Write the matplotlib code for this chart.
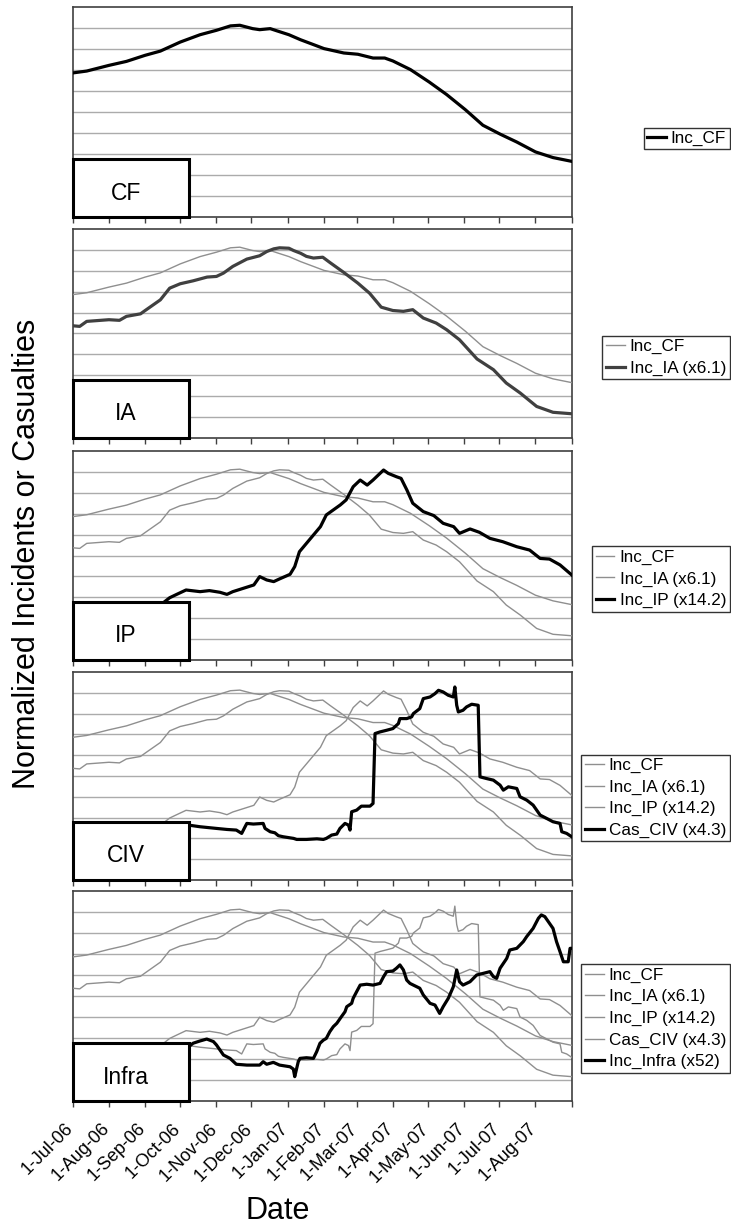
import numpy as np
import matplotlib
matplotlib.use("Agg")
import matplotlib.pyplot as plt
import matplotlib.dates as mdates
from matplotlib.patches import Rectangle
from matplotlib.lines import Line2D
from matplotlib.transforms import ScaledTranslation, blended_transform_factory
import datetime as dt

plt.rcParams['font.family'] = ['Liberation Sans', 'DejaVu Sans']

# ---------------- data (day offsets from 1-Jul-2006, normalized values) -------------
cf_days = [0, 12, 31, 46, 62, 75, 92, 109, 123, 135, 143, 154, 160, 169, 175, 185, 195, 206,
           215, 232, 244, 257, 267, 274, 289, 305, 320, 336, 351, 366, 380, 396, 411, 427]
cf_vals = [6.86, 6.95, 7.22, 7.41, 7.70, 7.90, 8.33, 8.68, 8.89, 9.10, 9.13, 8.97, 8.92, 8.97,
           8.86, 8.68, 8.44, 8.21, 8.02, 7.81, 7.75, 7.57, 7.57, 7.43, 7.02, 6.43, 5.83, 5.11,
           4.37, 3.94, 3.57, 3.10, 2.83, 2.65]

ia_days = [0, 6, 12, 31, 40, 46, 58, 62, 75, 83, 92, 103, 115, 123, 129, 137, 149, 160, 166,
           172, 177, 185, 189, 195, 200, 206, 214, 220, 232, 244, 254, 264, 274, 283, 291, 300,
           311, 320, 331, 346, 360, 371, 383, 397, 411, 427]
ia_vals = [5.37, 5.34, 5.58, 5.66, 5.63, 5.82, 5.94, 6.10, 6.61, 7.17, 7.38, 7.52, 7.70, 7.73,
           7.89, 8.21, 8.56, 8.72, 8.92, 9.05, 9.10, 9.08, 8.97, 8.84, 8.69, 8.61, 8.65, 8.40,
           7.92, 7.41, 6.93, 6.26, 6.10, 6.06, 6.14, 5.74, 5.50, 5.18, 4.70, 3.78, 3.27, 2.63,
           2.15, 1.51, 1.23, 1.16]

ip_days = [0, 40, 70, 78, 83, 89, 97, 109, 117, 126, 132, 137, 146, 155, 160, 166, 172, 177,
           186, 190, 194, 200, 206, 212, 217, 223, 229, 234, 240, 246, 252, 257, 263, 266, 270,
           277, 281, 286, 291, 300, 309, 317, 326, 331, 340, 348, 357, 368, 380, 391, 400, 408,
           417, 427]
ip_vals = [2.30, 2.40, 2.60, 2.76, 2.98, 3.14, 3.35, 3.27, 3.32, 3.24, 3.14, 3.27, 3.43, 3.59,
           3.99, 3.83, 3.75, 3.88, 4.10, 4.47, 5.18, 5.58, 5.98, 6.38, 6.94, 7.18, 7.42, 7.66,
           8.29, 8.61, 8.37, 8.61, 8.93, 9.09, 8.93, 8.77, 8.69, 8.13, 7.50, 7.10, 6.91, 6.54,
           6.38, 6.06, 6.27, 6.11, 5.82, 5.66, 5.42, 5.26, 4.86, 4.83, 4.55, 4.07]

civ_days = [0, 50, 99, 109, 123, 132, 140, 144.6, 147.5, 149, 154.6, 163, 164.6, 169, 173, 176,
            180, 189, 191.7, 200, 209, 214.5, 217, 221.6, 226, 228.7, 233, 236, 237.3, 238.7,
            243, 247, 254.4, 257, 258.7, 263, 268.7, 274, 278.7, 280, 285.8, 290, 291.5, 297,
            300, 305.8, 310, 313, 317, 321.4, 325.7, 327, 328.6, 330, 334, 337, 341.4, 347,
            348.5, 354, 360, 365.7, 368.5, 372.8, 380, 382.8, 388.5, 394, 400, 405.6, 411, 417,
            418.5, 422.7, 427]
civ_vals = [2.70, 2.70, 2.64, 2.56, 2.48, 2.43, 2.40, 2.24, 2.56, 2.72, 2.69, 2.72, 2.48, 2.32,
            2.27, 2.13, 2.08, 2.00, 1.95, 1.95, 1.98, 1.95, 2.00, 2.16, 2.21, 2.48, 2.72, 2.64,
            2.40, 3.28, 3.36, 3.55, 3.55, 3.68, 7.04, 7.12, 7.20, 7.28, 7.52, 7.76, 7.76, 7.84,
            8.00, 8.24, 8.72, 8.80, 8.96, 9.12, 9.04, 8.88, 8.80, 9.28, 8.40, 8.08, 8.16, 8.32,
            8.45, 8.40, 4.96, 4.88, 4.80, 4.56, 4.32, 4.48, 4.40, 4.00, 3.84, 3.60, 3.12, 2.96,
            2.80, 2.72, 2.32, 2.24, 2.08]

infra_days = [0, 50, 97.5, 103, 109, 114.7, 120.4, 123, 126, 129, 134.6, 140, 149, 160, 163,
              166, 171.7, 177, 186, 188.8, 190, 193, 194.5, 200, 206, 208.8, 211.6, 214.5, 217,
              220, 223, 226, 230, 233, 234.5, 238.7, 240, 243, 246, 251.6, 257, 263, 266, 268.7,
              274, 277, 280, 283, 285.8, 288.6, 291.5, 297, 300, 305.8, 310, 314, 317, 321.4,
              325.7, 328.6, 331, 334, 340, 345.7, 351.4, 357, 360, 362.8, 365.7, 371.4, 374,
              380, 385.6, 388.5, 394, 398.5, 401, 404, 407, 411, 414, 417, 419.9, 424, 425.6,
              427]
infra_vals = [2.50, 2.50, 2.51, 2.75, 2.86, 2.95, 2.83, 2.67, 2.43, 2.19, 2.03, 1.75, 1.71,
              1.71, 1.87, 1.75, 1.84, 1.71, 1.63, 1.52, 1.16, 1.87, 2.03, 2.06, 2.03, 2.35, 2.75,
              2.90, 2.98, 3.30, 3.54, 3.70, 4.02, 4.25, 4.49, 4.65, 4.89, 5.21, 5.52, 5.56, 5.52,
              5.60, 5.92, 6.16, 6.19, 6.32, 6.48, 6.24, 5.76, 5.60, 5.52, 5.37, 5.05, 4.65, 4.57,
              4.17, 4.49, 4.89, 5.44, 6.24, 5.68, 5.52, 5.68, 6.00, 6.08, 6.16, 5.92, 5.84, 6.32,
              6.79, 7.19, 7.27, 7.59, 7.83, 8.22, 8.70, 8.86, 8.78, 8.54, 8.22, 7.59, 7.11, 6.63,
              6.63, 7.27, 7.27]

tick_labels = ['1-Jul-06', '1-Aug-06', '1-Sep-06', '1-Oct-06', '1-Nov-06', '1-Dec-06',
               '1-Jan-07', '1-Feb-07', '1-Mar-07', '1-Apr-07', '1-May-07', '1-Jun-07',
               '1-Jul-07', '1-Aug-07', '']
panel_names = ['CF', 'IA', 'IP', 'CIV', 'Infra']
series_labels = ['Inc_CF', 'Inc_IA (x6.1)', 'Inc_IP (x14.2)', 'Cas_CIV (x4.3)', 'Inc_Infra (x52)']

# ---------------- layout ----------------
W, H = 731, 1227
fig = plt.figure(figsize=(W / 100, H / 100), dpi=100)
fig.patch.set_facecolor('white')

base = mdates.date2num(dt.datetime(2006, 7, 1))
series = [(cf_days, cf_vals), (ia_days, ia_vals), (ip_days, ip_vals),
          (civ_days, civ_vals), (infra_days, infra_vals)]
series = [(base + np.asarray(d, float), np.asarray(v, float)) for d, v in series]

tick_dates = [mdates.date2num(dt.datetime(2006 + (6 + i) // 12, (6 + i) % 12 + 1, 1)) for i in range(15)]

panels_px = [(7, 217), (229, 438), (451, 660), (672, 880), (891, 1101)]
legend_cy = [138.5, 357.5, 579, 798, 1018.5]
left_px, right_px = 72.7, 571.7

GRAY = '#8f8f8f'
GRID = '#ababab'

for i, (top, bot) in enumerate(panels_px):
    ax = fig.add_axes([left_px / W, 1 - bot / H, (right_px - left_px) / W, (bot - top) / H])
    ax.set_xlim(tick_dates[0], tick_dates[-1])
    ax.set_ylim(0, 10)
    ax.set_yticks(range(1, 10))
    ax.yaxis.grid(True, color=GRID, lw=1.0)
    ax.set_axisbelow(True)
    ax.tick_params(axis='y', length=0, labelleft=False)
    ax.set_xticks(tick_dates)
    ax.set_xticklabels([])
    ax.tick_params(axis='x', direction='out', length=4.5, width=1.0, color='#404040')
    for s in ax.spines.values():
        s.set_color('#404040')
        s.set_linewidth(1.2)

    handles = []
    for j in range(i + 1):
        x, y = series[j]
        if j == i:
            col = '#404040' if i == 1 else 'black'
            lw = 2.3
        else:
            col = GRAY
            lw = 1.0
        ax.plot(x, y, color=col, lw=lw, zorder=3 + (j == i))
        handles.append(Line2D([], [], color=col, lw=lw))

    if i == 4:
        trans = blended_transform_factory(ax.transData, ax.transAxes)
        off = ScaledTranslation(-8 / 100, -19 / 100, fig.dpi_scale_trans)
        for d, lab in zip(tick_dates, tick_labels):
            if lab:
                ax.text(d, 0, lab, transform=trans + off, rotation=45, ha='right', va='top',
                        rotation_mode='anchor', fontsize=13, clip_on=False)

    # label box
    bw = 116 / (right_px - left_px)
    bh = 58 / (bot - top)
    ax.add_patch(Rectangle((0, 0), bw, bh, transform=ax.transAxes, facecolor='white',
                           edgecolor='black', lw=2.2, zorder=10, clip_on=False))
    ax.text((126 - left_px) / (right_px - left_px), 24 / (bot - top), panel_names[i],
            transform=ax.transAxes, ha='center', va='center', fontsize=16.5, zorder=11)

    leg = fig.legend(handles, series_labels[:i + 1], loc='center right',
                     bbox_to_anchor=(729.5 / W, 1 - legend_cy[i] / H), fontsize=12.3,
                     frameon=True, fancybox=False, shadow=False, borderpad=0.2,
                     labelspacing=0.38, handlelength=1.1, handletextpad=0.3,
                     borderaxespad=0)
    leg.get_frame().set_edgecolor('black')
    leg.get_frame().set_linewidth(1.0)

fig.text(27 / W, 1 - 554 / H, 'Normalized Incidents or Casualties', rotation=90,
         ha='center', va='center', fontsize=22)
fig.text(278 / W, 1 - 1211 / H, 'Date', ha='center', va='center', fontsize=22)

fig.savefig('out.png', dpi=100, facecolor='white')
